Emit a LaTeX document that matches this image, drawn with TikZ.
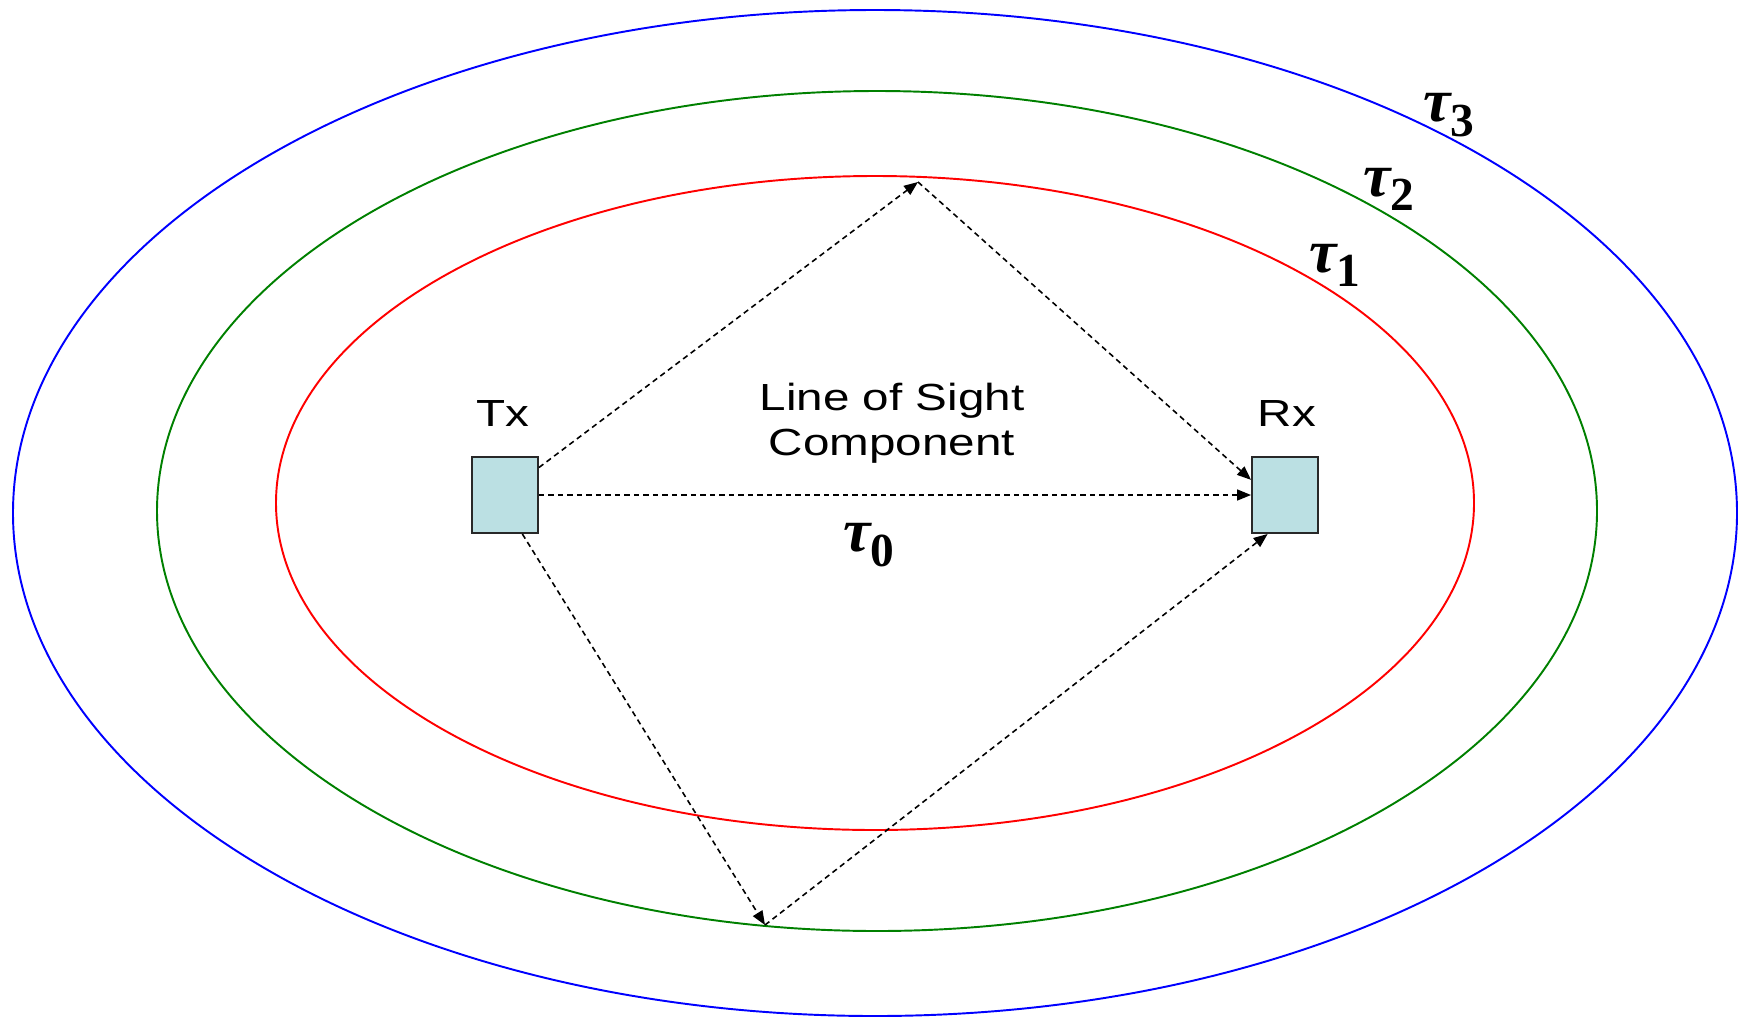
\documentclass[tikz,border=0pt]{standalone}
\usepackage{fontspec}
\setmainfont[FakeStretch=1.26]{Liberation Sans}
\newfontfamily\taufont{Liberation Serif}
\usetikzlibrary{arrows.meta,positioning}
\definecolor{boxfill}{RGB}{187,224,227}
\definecolor{boxline}{RGB}{40,40,40}
\definecolor{ringgreen}{RGB}{0,128,0}
\newcommand{\delay}[1]{{\taufont\fontsize{35}{36}\selectfont\bfseries\itshape τ}{\taufont\fontsize{27}{28}\selectfont\bfseries\raisebox{-0.3em}{#1}}}

\begin{document}
\begin{tikzpicture}[x=0.02cm, y=-0.02cm,
    every node/.style={font=\fontsize{21.5}{26}\selectfont},
    ring/.style={line width=1.1pt},
    antenna/.style={draw=boxline, fill=boxfill, line width=1.1pt, minimum width=1.32cm, minimum height=1.52cm, inner sep=0pt},
    ray/.style={line width=0.9pt, dash pattern=on 0.11cm off 0.08cm, -{Triangle[length=0.28cm, width=0.22cm]}}]
    \useasboundingbox (0,0) rectangle (1747,1018);

    % Delay rings
    \draw[ring, blue] (875,513) ellipse [x radius=862, y radius=503];
    \draw[ring, ringgreen] (877,511) ellipse [x radius=720, y radius=420];
    \draw[ring, red] (875,503) ellipse [x radius=599, y radius=327];

    % Tx and Rx
    \node[antenna] (tx) at (505,495) {};
    \node[antenna] (rx) at (1285,495) {};
    \node (txlabel) at (503,413) {Tx};
    \node (rxlabel) at (1287,413) {Rx};

    % Reflection points
    \coordinate (top) at (918,182);
    \coordinate (bottom) at (765,925);

    % Labels
    \node[align=center, font=\fontsize{21.5}{25.5}\selectfont] (los) at (892,423) {Line of Sight\\Component};
    \node (t0) at (869,545) {\delay{0}};
    \node (t1) at (1335,265) {\delay{1}};
    \node (t2) at (1389,189) {\delay{2}};
    \node (t3) at (1449,115) {\delay{3}};

    % Paths
    \draw[ray] (tx.east) -- (rx.west);
    \draw[ray] (tx.39) -- (top);
    \draw[ray] (top) -- (rx.156);
    \draw[ray] (tx.-66) -- (bottom);
    \draw[ray] (bottom) -- (rx.-114);
\end{tikzpicture}
\end{document}
